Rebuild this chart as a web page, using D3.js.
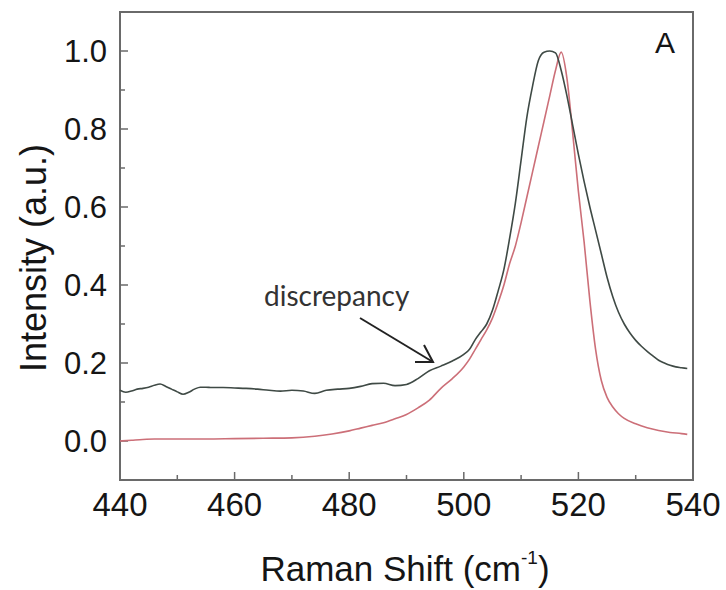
<!DOCTYPE html>
<html>
<head>
<meta charset="utf-8">
<script src="https://cdn.jsdelivr.net/npm/d3@7"></script>
<style>
  body { margin: 0; background: #fff; }
  svg text { font-family: "Liberation Sans", Arial, sans-serif; fill: #151515; }
</style>
</head>
<body>
<div id="vis"></div>
<script>
// Raman shift (cm^-1) and normalised intensities
const shiftDark = [440, 441, 442, 443, 444, 445, 446, 447, 448, 449, 450, 451, 452, 453, 454, 455, 456, 458, 460, 462, 464, 466, 468, 470, 472, 474, 476, 478, 480, 482, 484, 486, 488, 490, 492, 494, 496, 498, 500, 501, 502, 503, 504, 505, 506, 507, 508, 509, 510, 511, 512, 513, 514, 515, 516, 517, 518, 519, 520, 521, 522, 523, 524, 525, 526, 527, 528, 529, 530, 531, 532, 533, 534, 535, 536, 537, 538, 539];
const darkIntensity = [0.13, 0.125, 0.128, 0.133, 0.135, 0.138, 0.143, 0.146, 0.14, 0.133, 0.126, 0.12, 0.125, 0.133, 0.138, 0.138, 0.137, 0.137, 0.136, 0.135, 0.133, 0.13, 0.128, 0.13, 0.128, 0.122, 0.13, 0.133, 0.135, 0.14, 0.147, 0.148, 0.142, 0.145, 0.16, 0.18, 0.192, 0.205, 0.222, 0.235, 0.26, 0.28, 0.3, 0.335, 0.385, 0.44, 0.52, 0.61, 0.72, 0.83, 0.91, 0.975, 0.997, 1.0, 0.995, 0.95, 0.885, 0.81, 0.735, 0.665, 0.6, 0.54, 0.48, 0.42, 0.37, 0.33, 0.3, 0.277, 0.258, 0.243, 0.23, 0.218, 0.207, 0.2, 0.194, 0.19, 0.188, 0.186];

const shiftRed = [440, 442, 444, 446, 450, 455, 460, 465, 470, 474, 477, 480, 482, 484, 486, 488, 490, 492, 494, 496, 498, 500, 501, 502, 503, 504, 505, 506, 507, 508, 509, 510, 511, 512, 513, 514, 515, 516, 517, 518, 519, 520, 521, 522, 523, 524, 525, 526, 527, 528, 530, 532, 534, 536, 538, 539];
const redIntensity = [0.0, 0.002, 0.004, 0.005, 0.005, 0.005, 0.006, 0.007, 0.008, 0.012, 0.018, 0.026, 0.033, 0.04, 0.047, 0.057, 0.068, 0.085, 0.105, 0.135, 0.16, 0.19, 0.21, 0.235, 0.26, 0.285, 0.315, 0.355, 0.4, 0.455, 0.5, 0.56, 0.625, 0.69, 0.755, 0.82, 0.885, 0.95, 0.997, 0.93, 0.79, 0.64, 0.51, 0.36, 0.235, 0.155, 0.112, 0.087, 0.07, 0.058, 0.044, 0.034, 0.027, 0.022, 0.019, 0.017];

const xTicks = [440, 460, 480, 500, 520, 540];
const yTicks = [0.0, 0.2, 0.4, 0.6, 0.8, 1.0];

const width = 726, height = 590;
const margin = { top: 12, right: 33, bottom: 110, left: 120 };

const svg = d3.select('#vis')
  .append('svg')
    .attr('width', width)
    .attr('height', height);

const x = d3.scaleLinear().domain([440, 540]).range([margin.left, width - margin.right]);
const y = d3.scaleLinear().domain([-0.1, 1.1]).range([height - margin.bottom, margin.top]);

const axisColor = '#6a6a6a';

// frame
svg.append('rect')
  .attr('x', x(440)).attr('y', y(1.1))
  .attr('width', x(540) - x(440)).attr('height', y(-0.1) - y(1.1))
  .attr('fill', 'none').attr('stroke', axisColor).attr('stroke-width', 2);

// inward ticks, major + minor
const xMinor = d3.range(450, 540, 20);
const yMinor = d3.range(-0.1, 1.1, 0.2).map(v => +v.toFixed(1));

function tickX(vals, len) {
  svg.append('g').selectAll('line').data(vals).join('line')
    .attr('x1', d => x(d)).attr('x2', d => x(d))
    .attr('y1', y(-0.1)).attr('y2', y(-0.1) - len)
    .attr('stroke', axisColor).attr('stroke-width', 1.5);
}
function tickY(vals, len) {
  svg.append('g').selectAll('line').data(vals).join('line')
    .attr('y1', d => y(d)).attr('y2', d => y(d))
    .attr('x1', x(440)).attr('x2', x(440) + len)
    .attr('stroke', axisColor).attr('stroke-width', 1.5);
}
tickX(xTicks.slice(1, -1), 8);
tickX(xMinor, 5);
tickY(yTicks, 8);
tickY(yMinor, 5);

// tick labels
svg.append('g').selectAll('text').data(xTicks).join('text')
  .attr('x', d => x(d)).attr('y', 516)
  .attr('text-anchor', 'middle')
  .attr('font-size', 33)
  .text(d => d);

svg.append('g').selectAll('text').data(yTicks).join('text')
  .attr('x', 107).attr('y', d => y(d) + 11)
  .attr('text-anchor', 'end')
  .attr('font-size', 31)
  .text(d => d.toFixed(1));

// axis titles
const xt = svg.append('text')
  .attr('x', 405).attr('y', 581)
  .attr('text-anchor', 'middle')
  .attr('font-size', 35);
xt.append('tspan').text('Raman Shift (cm');
xt.append('tspan').attr('font-size', 19).attr('dy', -17).text('-1');
xt.append('tspan').attr('dy', 17).text(')');

svg.append('text')
  .attr('transform', 'translate(46,258) rotate(-90)')
  .attr('text-anchor', 'middle')
  .attr('font-size', 36)
  .text('Intensity (a.u.)');

// panel letter
svg.append('text')
  .attr('x', 665).attr('y', 53)
  .attr('text-anchor', 'middle')
  .attr('font-size', 30)
  .text('A');

// curves
const line = d3.line().x(d => x(d[0])).y(d => y(d[1])).curve(d3.curveMonotoneX);

svg.append('path')
  .datum(d3.zip(shiftRed, redIntensity))
  .attr('fill', 'none').attr('stroke', '#cc6f78').attr('stroke-width', 1.6)
  .attr('d', line);

svg.append('path')
  .datum(d3.zip(shiftDark, darkIntensity))
  .attr('fill', 'none').attr('stroke', '#3f4a45').attr('stroke-width', 1.6)
  .attr('d', line);

// annotation
svg.append('text')
  .attr('x', 264).attr('y', 306)
  .attr('font-size', 28)
  .style('font-family', 'Lato, "Open Sans", sans-serif')
  .style('fill', '#333')
  .text('discrepancy');

const arrow = svg.append('g').attr('stroke', '#222').attr('stroke-width', 2).attr('fill', 'none');
arrow.append('line').attr('x1', 360).attr('y1', 318).attr('x2', 433).attr('y2', 362);
arrow.append('polyline').attr('points', '415,362 433,362 424,345');
</script>
</body>
</html>
